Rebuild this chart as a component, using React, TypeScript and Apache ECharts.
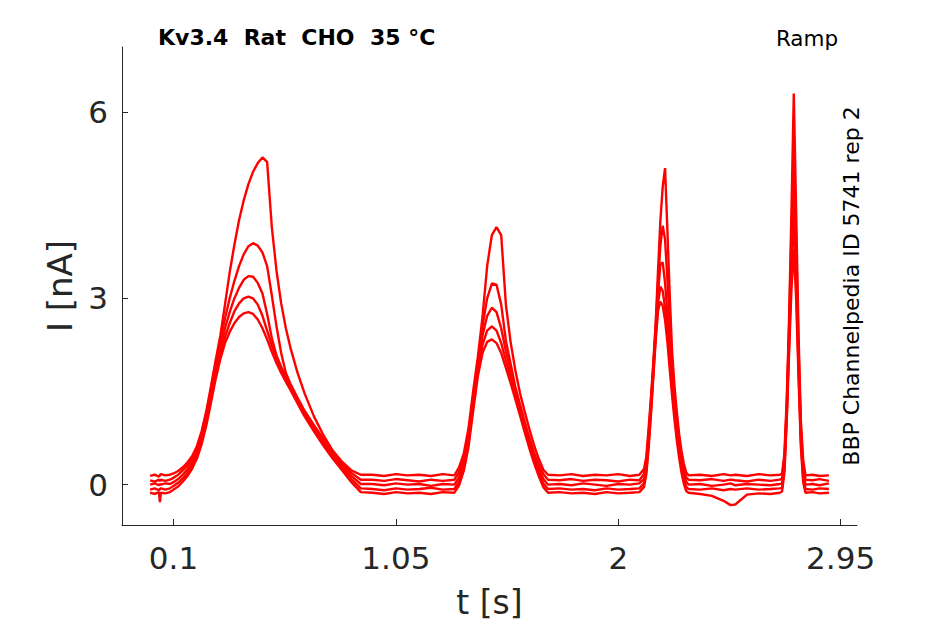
import React, { useEffect, useRef } from "react";
import * as echarts from "echarts";

// time knots [s]
const time = [
  0.0, 0.02, 0.038, 0.042, 0.046, 0.065, 0.085,
  0.1, 0.12, 0.14, 0.16, 0.18, 0.2, 0.22, 0.24, 0.26, 0.28, 0.3, 0.32, 0.34, 0.36, 0.38, 0.4, 0.42, 0.44, 0.46, 0.48, 0.5, 0.52, 0.54, 0.56, 0.58, 0.6, 0.63, 0.66, 0.7, 0.74, 0.78, 0.82, 0.86, 0.9,
  0.95, 1.0, 1.05, 1.1, 1.15, 1.2, 1.25, 1.3,
  1.32, 1.34, 1.36, 1.38, 1.4, 1.42, 1.44, 1.46, 1.48, 1.5, 1.52, 1.54, 1.56, 1.58, 1.6, 1.62, 1.64, 1.66, 1.68, 1.7,
  1.75, 1.8, 1.85, 1.9, 1.95, 2.0, 2.05, 2.09,
  2.11, 2.12, 2.13, 2.14, 2.15, 2.16, 2.17, 2.18, 2.19, 2.2, 2.21, 2.22, 2.23, 2.24, 2.25, 2.26, 2.27, 2.28, 2.29, 2.3,
  2.35, 2.4, 2.45, 2.48, 2.5, 2.55, 2.6, 2.65, 2.69,
  2.7, 2.71, 2.72, 2.73, 2.74, 2.75, 2.76, 2.77, 2.78, 2.79, 2.8,
  2.83, 2.86, 2.9,
];

// current traces [nA]
const trace1 = [
  0.14, 0.16, 0.13, 0.15, 0.17, 0.15, 0.16,
  0.18, 0.22, 0.28, 0.36, 0.46, 0.62, 0.86, 1.18, 1.58, 2.0, 2.4, 2.9, 3.42, 3.86, 4.26, 4.58, 4.84, 5.04, 5.18, 5.27, 5.2, 4.15, 3.45, 2.92, 2.52, 2.2, 1.8, 1.47, 1.1, 0.8, 0.55, 0.37, 0.23, 0.16,
  0.16, 0.14, 0.17, 0.15, 0.16, 0.14, 0.17, 0.15,
  0.28, 0.5, 0.9, 1.5, 2.05, 2.7, 3.52, 4.02, 4.15, 4.02, 2.9, 2.3, 1.85, 1.48, 1.18, 0.9, 0.64, 0.42, 0.24, 0.16,
  0.15, 0.17, 0.14, 0.16, 0.15, 0.17, 0.14, 0.16,
  0.25, 0.45, 0.92, 1.42, 1.98, 2.6, 3.45, 4.25, 4.8, 5.1, 4.1, 3.05, 2.15, 1.6, 1.18, 0.82, 0.55, 0.34, 0.2, 0.15,
  0.16, 0.14, 0.17, 0.15, 0.16, 0.14, 0.17, 0.15, 0.16,
  0.18, 0.5, 1.4, 2.7, 4.4, 6.3, 4.4, 2.45, 1.05, 0.4, 0.15,
  0.16, 0.14, 0.15,
];

const trace2 = [
  0.07, 0.05, 0.08, 0.06, 0.08, 0.06, 0.08,
  0.11, 0.16, 0.23, 0.31, 0.42, 0.58, 0.82, 1.14, 1.54, 1.95, 2.32, 2.68, 3.0, 3.28, 3.52, 3.71, 3.84, 3.89, 3.85, 3.74, 3.52, 3.05, 2.55, 2.12, 1.8, 1.62, 1.4, 1.19, 0.96, 0.74, 0.53, 0.35, 0.19, 0.08,
  0.08, 0.06, 0.09, 0.07, 0.05, 0.08, 0.06, 0.08,
  0.2, 0.42, 0.8, 1.4, 1.98, 2.55, 3.0, 3.24, 3.22, 2.9, 2.32, 1.95, 1.58, 1.3, 1.02, 0.76, 0.52, 0.33, 0.17, 0.08,
  0.07, 0.09, 0.06, 0.08, 0.07, 0.05, 0.08, 0.07,
  0.17, 0.38, 0.82, 1.35, 1.92, 2.55, 3.25, 3.85, 4.17, 3.95, 3.3, 2.6, 1.95, 1.45, 1.05, 0.72, 0.45, 0.26, 0.12, 0.08,
  0.07, 0.09, 0.06, 0.08, 0.07, 0.05, 0.08, 0.06, 0.08,
  0.1, 0.42, 1.3, 2.55, 4.05, 5.5, 3.95, 2.25, 0.92, 0.3, 0.08,
  0.07, 0.09, 0.06,
];

const trace3 = [
  0.0, 0.02, -0.01, 0.01, 0.0, 0.02, 0.01,
  0.04, 0.09, 0.16, 0.25, 0.36, 0.52, 0.76, 1.08, 1.47, 1.86, 2.2, 2.52, 2.78, 3.0, 3.17, 3.3, 3.36, 3.35, 3.25, 3.08, 2.75, 2.36, 2.08, 1.9, 1.74, 1.58, 1.37, 1.16, 0.92, 0.7, 0.49, 0.31, 0.14, 0.01,
  0.01, -0.01, 0.02, 0.0, 0.01, -0.02, 0.01, 0.0,
  0.12, 0.35, 0.72, 1.32, 1.9, 2.4, 2.72, 2.85, 2.78, 2.52, 2.15, 1.85, 1.52, 1.24, 0.96, 0.7, 0.46, 0.26, 0.09, 0.0,
  0.01, -0.01, 0.02, 0.0, -0.02, 0.01, 0.0, 0.02,
  0.09, 0.3, 0.74, 1.28, 1.86, 2.48, 3.08, 3.55, 3.58, 3.25, 2.75, 2.2, 1.7, 1.28, 0.92, 0.62, 0.37, 0.18, 0.05, 0.0,
  0.01, -0.02, 0.0, 0.02, -0.01, 0.01, 0.0, -0.01, 0.01,
  0.02, 0.34, 1.2, 2.4, 3.7, 4.8, 3.55, 2.05, 0.82, 0.2, 0.0,
  0.01, -0.01, 0.02,
];

const trace4 = [
  -0.08, -0.06, -0.09, -0.07, -0.06, -0.08, -0.06,
  -0.02, 0.03, 0.1, 0.19, 0.31, 0.47, 0.7, 1.01, 1.38, 1.76, 2.08, 2.38, 2.6, 2.79, 2.92, 3.0, 3.03, 3.0, 2.9, 2.72, 2.48, 2.24, 2.04, 1.86, 1.7, 1.55, 1.34, 1.13, 0.89, 0.66, 0.45, 0.27, 0.09, -0.06,
  -0.07, -0.09, -0.06, -0.08, -0.07, -0.05, -0.08, -0.07,
  0.05, 0.28, 0.65, 1.25, 1.82, 2.25, 2.48, 2.55, 2.48, 2.28, 2.0, 1.74, 1.45, 1.18, 0.9, 0.64, 0.4, 0.19, 0.02, -0.07,
  -0.06, -0.08, -0.07, -0.09, -0.06, -0.08, -0.07, -0.06,
  0.02, 0.23, 0.67, 1.21, 1.8, 2.4, 2.92, 3.19, 3.12, 2.85, 2.45, 1.98, 1.53, 1.14, 0.8, 0.52, 0.28, 0.09, -0.03, -0.07,
  -0.08, -0.06, -0.09, -0.07, -0.08, -0.06, -0.08, -0.07, -0.06,
  -0.05, 0.27, 1.12, 2.28, 3.45, 4.35, 3.3, 1.9, 0.72, 0.12, -0.07,
  -0.08, -0.06, -0.07,
];

const trace5 = [
  -0.13, -0.15, -0.12, -0.28, -0.13, -0.14, -0.12,
  -0.08, -0.03, 0.05, 0.14, 0.26, 0.42, 0.65, 0.95, 1.32, 1.7, 2.02, 2.28, 2.46, 2.6, 2.7, 2.76, 2.78, 2.75, 2.66, 2.52, 2.34, 2.14, 1.96, 1.8, 1.66, 1.52, 1.31, 1.1, 0.86, 0.63, 0.42, 0.23, 0.04, -0.12,
  -0.13, -0.15, -0.12, -0.14, -0.13, -0.15, -0.12, -0.13,
  -0.01, 0.22, 0.6, 1.18, 1.74, 2.12, 2.3, 2.34, 2.28, 2.12, 1.88, 1.64, 1.38, 1.12, 0.85, 0.59, 0.35, 0.14, -0.04, -0.13,
  -0.12, -0.14, -0.13, -0.15, -0.12, -0.14, -0.13, -0.12,
  -0.04, 0.17, 0.6, 1.14, 1.74, 2.32, 2.8, 2.95, 2.88, 2.65, 2.3, 1.86, 1.44, 1.06, 0.72, 0.44, 0.2, 0.02, -0.1, -0.13,
  -0.15, -0.18, -0.26, -0.33, -0.32, -0.16, -0.14, -0.15, -0.13,
  -0.11, 0.2, 1.05, 2.15, 3.15, 3.8, 3.0, 1.75, 0.62, 0.04, -0.13,
  -0.12, -0.14, -0.13,
];

const xTicks = [0.1, 1.05, 2, 2.95];
const yTicks = [0, 3, 6];

const titleText = "Kv3.4  Rat  CHO  35 °C";
const protocolText = "Ramp";
const sideText = "BBP Channelpedia ID 5741 rep 2";

export default function App() {
  const ref = useRef<HTMLDivElement>(null);

  useEffect(() => {
    const chart = echarts.init(ref.current as HTMLDivElement, null, { renderer: "svg" });
    const traces = [trace1, trace2, trace3, trace4, trace5];
    const font = "DejaVu Sans";
    const axisColor = "#262626";
    chart.setOption({
      animation: false,
      backgroundColor: "#ffffff",
      grid: { left: 122, right: 88, top: 47, bottom: 98 },
      xAxis: {
        type: "value",
        min: -0.12,
        max: 3.02,
        name: "t [s]",
        nameLocation: "middle",
        nameGap: 61,
        nameTextStyle: { fontSize: 33, color: axisColor, fontFamily: font },
        axisLine: { onZero: false, lineStyle: { color: axisColor, width: 1 } },
        axisTick: { inside: true, length: 6, customValues: xTicks, lineStyle: { color: axisColor, width: 1 } },
        axisLabel: { customValues: xTicks, fontSize: 31, color: axisColor, margin: 17, fontFamily: font },
        splitLine: { show: false },
      },
      yAxis: {
        type: "value",
        min: -0.65,
        max: 7.05,
        name: "I [nA]",
        nameLocation: "middle",
        nameGap: 38,
        nameTextStyle: { fontSize: 34, color: axisColor, fontFamily: font },
        axisLine: { show: true, onZero: false, lineStyle: { color: axisColor, width: 1 } },
        axisTick: { show: true, inside: true, length: 6, customValues: yTicks, lineStyle: { color: axisColor, width: 1 } },
        axisLabel: { customValues: yTicks, fontSize: 31, color: axisColor, margin: 14, fontFamily: font },
        splitLine: { show: false },
      },
      graphic: [
        {
          type: "text",
          left: 158,
          top: 26,
          style: { text: titleText, fontSize: 22, fontWeight: "bold", fill: "#000000", fontFamily: font },
        },
        {
          type: "text",
          x: 807,
          y: 38,
          style: { text: protocolText, fontSize: 21.5, fill: "#000000", fontFamily: font, align: "center", verticalAlign: "middle" },
        },
        {
          type: "text",
          x: 851,
          y: 286,
          rotation: Math.PI / 2,
          style: { text: sideText, fontSize: 22, fill: "#000000", fontFamily: font, align: "center", verticalAlign: "middle" },
        },
      ],
      series: traces.map((tr, k) => ({
        name: "trace " + (k + 1),
        type: "line",
        data: time.map((t, i) => [t, tr[i]]),
        showSymbol: false,
        symbol: "none",
        lineStyle: { color: "#ff0000", width: 2.4 },
        itemStyle: { color: "#ff0000" },
        silent: true,
        clip: true,
      })),
    });
    return () => chart.dispose();
  }, []);

  return <div ref={ref} style={{ position: "fixed", left: 0, top: 0, width: 945, height: 624 }} />;
}
